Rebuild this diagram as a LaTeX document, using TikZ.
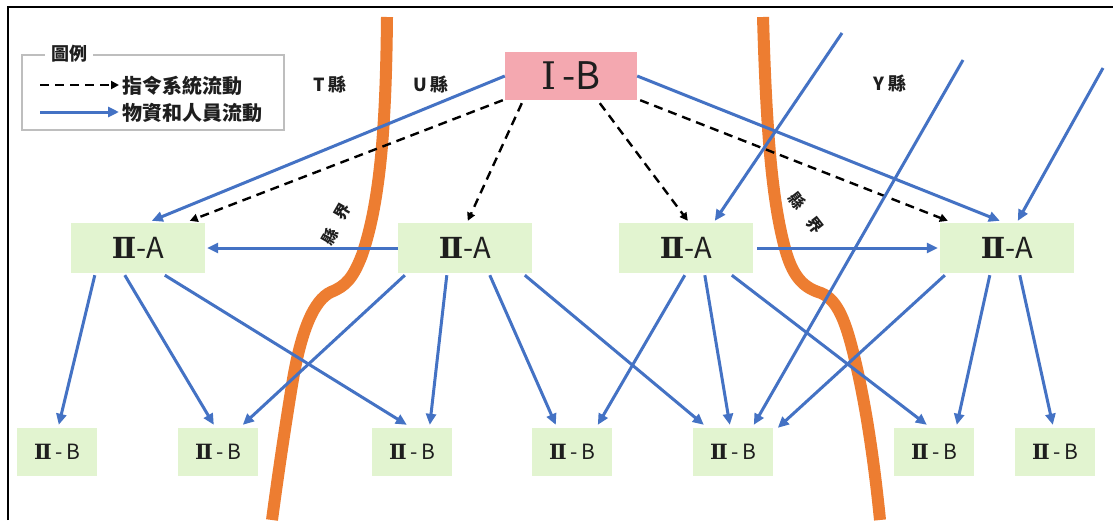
\documentclass[tikz,border=0pt]{standalone}
\usepackage{fontspec}
\newfontfamily\cjk{Noto Sans CJK TC}
\newfontfamily\romnum{DejaVu Serif}
\usetikzlibrary{arrows.meta,calc}
\definecolor{flowblue}{RGB}{68,114,196}
\definecolor{borderorange}{RGB}{237,125,49}
\definecolor{nodegreen}{RGB}{226,244,208}
\definecolor{nodepink}{RGB}{244,168,176}
\definecolor{txt}{RGB}{30,30,30}
\newcommand{\rII}{{\romnum\bfseries Ⅱ}}
\newcommand{\rI}{{\romnum Ⅰ}}
\tikzset{
  flow/.style={draw=flowblue,line width=3pt,-{Triangle[length=11pt,width=10pt]}},
  cmd/.style={draw=black,line width=2.4pt,dash pattern=on 9pt off 6pt,-{Triangle[length=8pt,width=8pt]}},
  boundary/.style={draw=borderorange,line width=12pt},
  abox/.style={fill=nodegreen,minimum width=134pt,minimum height=50pt,inner sep=0pt,font=\cjk\fontsize{29}{29}\selectfont,text=txt},
  bbox/.style={fill=nodegreen,minimum width=80pt,minimum height=48pt,inner sep=0pt,font=\cjk\fontsize{21}{21}\selectfont,text=txt},
  ibox/.style={fill=nodepink,minimum width=132pt,minimum height=48pt,inner sep=0pt,font=\cjk\fontsize{38}{38}\selectfont,text=txt},
  lbl/.style={font=\cjk\bfseries\fontsize{18}{18}\selectfont,text=txt,inner sep=0pt},
  leg/.style={font=\cjk\bfseries\fontsize{20}{20}\selectfont,text=txt,inner sep=0pt,anchor=west},
  bnd/.style={font=\cjk\bfseries\fontsize{16}{16}\selectfont,text=txt,inner sep=0pt}
}
\begin{document}
\begin{tikzpicture}[x=1pt,y=-1pt]
\useasboundingbox (0,0) rectangle (1113,520);
\fill[white] (0,0) rectangle (1113,520);
% frame
\draw[line width=2.5pt,black] (8,520) -- (8,7) -- (1113,7);
% county boundaries
\draw[boundary] (387,17) .. controls (386,120) and (381,200) .. (362,255)
  .. controls (353,278) and (346,286) .. (331,292)
  .. controls (314,300) and (301,330) .. (292,385)
  .. controls (283,440) and (276,490) .. (272,520);
\draw[boundary] (763,17) .. controls (766,120) and (771,200) .. (786,252)
  .. controls (794,279) and (805,288) .. (821,293)
  .. controls (838,300) and (846,322) .. (855,360)
  .. controls (867,410) and (875,470) .. (880,520);
\node[bnd,rotate=60] (bl1a) at (330,236) {縣};
\node[bnd,rotate=60] (bl1b) at (343,212) {界};
\node[bnd,rotate=-52] (bl2a) at (797,201) {縣};
\node[bnd,rotate=-52] (bl2b) at (815,225) {界};
% legend
\draw[draw={rgb,255:red,190;green,190;blue,190},line width=1.3pt] (22,55) rectangle (284,130);
\node[font=\cjk\bfseries\fontsize{18}{18}\selectfont,text=txt,fill=white,inner xsep=6pt,inner ysep=2pt] (legt) at (69,54) {圖例};
\coordinate (l1a) at (40,85); \coordinate (l1b) at (119,85);
\coordinate (l2a) at (40,112); \coordinate (l2b) at (119,112);
\draw[cmd] (l1a) -- (l1b);
\draw[flow] (l2a) -- (l2b);
\node[leg] (legc) at (122,86) {指令系統流動};
\node[leg] (legf) at (122,113) {物資和人員流動};
% county names
\node[lbl] (tx) at (330,84) {T 縣};
\node[lbl] (ux) at (431,84) {U 縣};
\node[lbl] (yx) at (890,83) {Y 縣};
% nodes
\node[ibox] (IB) at (571,76) {\rI\,-B};
\node[abox] (A1) at (138,248) {\rII-A};
\node[abox] (A2) at (465,248) {\rII-A};
\node[abox] (A3) at (686,248) {\rII-A};
\node[abox] (A4) at (1007,248) {\rII-A};
\node[bbox] (B1) at (57,452) {\rII\,-\,B};
\node[bbox] (B2) at (218,452) {\rII\,-\,B};
\node[bbox] (B3) at (412,452) {\rII\,-\,B};
\node[bbox] (B4) at (572,452) {\rII\,-\,B};
\node[bbox] (B5) at (733,452) {\rII\,-\,B};
\node[bbox] (B6) at (934,452) {\rII\,-\,B};
\node[bbox] (B7) at (1055,452) {\rII\,-\,B};
% external inflows
\coordinate (e1) at (842,33);
\coordinate (e2) at (963,60);
\coordinate (e3) at (1103,68);
% I-B outflows
\draw[flow] (IB.west) -- ($(A1.north west)+(81,-2)$);
\draw[flow] (IB.east) -- ($(A4.north west)+(60,-2)$);
\draw[cmd] ($(IB.south west)+(-2,0)$) -- ($(A1.north west)+(119,-2)$);
\draw[cmd] ($(IB.south west)+(17,3)$) -- ($(A2.north west)+(70,-2)$);
\draw[cmd] ($(IB.south west)+(95,3)$) -- ($(A3.north west)+(69,-2)$);
\draw[cmd] ($(IB.south east)+(3,0)$) -- ($(A4.north west)+(8,-2)$);
% lateral
\draw[flow] (A2.west) -- ($(A1.east)+(2,0)$);
\draw[flow] ($(A3.east)+(4,0)$) -- ($(A4.west)+(-2,0)$);
% external
\draw[flow] (e1) -- ($(A3.north west)+(96,-2)$);
\draw[flow] (e2) -- ($(B5.north west)+(61,-3)$);
\draw[flow] (e3) -- ($(A4.north west)+(78,-2)$);
% A1
\draw[flow] ($(A1.south west)+(24,2)$) -- ($(B1.north west)+(42,-3)$);
\draw[flow] ($(A1.south west)+(54,2)$) -- ($(B2.north west)+(36,-3)$);
\draw[flow] ($(A1.south west)+(94,2)$) -- ($(B3.north west)+(35,-3)$);
% A2
\draw[flow] ($(A2.south west)+(7,2)$) -- ($(B2.north west)+(65,-3)$);
\draw[flow] ($(A2.south west)+(49,2)$) -- ($(B3.north west)+(58,-3)$);
\draw[flow] ($(A2.south west)+(92,2)$) -- ($(B4.north west)+(24,-3)$);
\draw[flow] ($(A2.south west)+(127,2)$) -- ($(B5.north west)+(11,-3)$);
% A3
\draw[flow] ($(A3.south west)+(66,2)$) -- ($(B4.north west)+(66,-3)$);
\draw[flow] ($(A3.south west)+(86,2)$) -- ($(B5.north west)+(37,-3)$);
\draw[flow] ($(A3.south west)+(113,2)$) -- ($(B6.north west)+(33,-3)$);
% A4
\draw[flow] ($(A4.south west)+(5,2)$) -- ($(B5.north west)+(85,0)$);
\draw[flow] ($(A4.south west)+(50,2)$) -- ($(B6.north west)+(63,-3)$);
\draw[flow] ($(A4.south west)+(80,2)$) -- ($(B7.north west)+(38,-3)$);
\end{tikzpicture}
\end{document}
